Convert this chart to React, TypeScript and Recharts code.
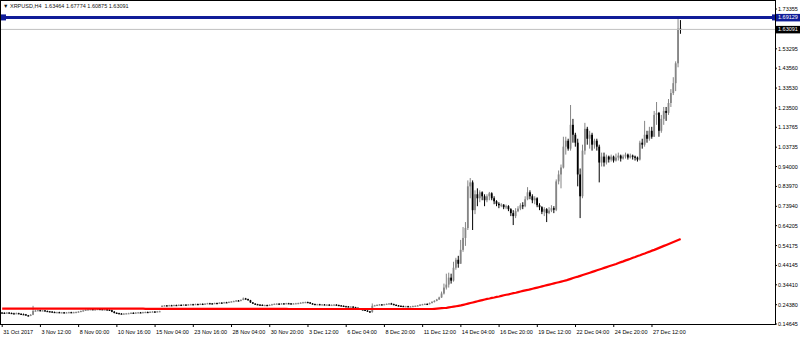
import React from 'react';
import { ComposedChart, Bar, Line, XAxis, YAxis, ReferenceLine } from 'recharts';

// XRPUSD H4 candles (one entry per bar)
const opens = [
  0.204, 0.203, 0.201, 0.204, 0.202, 0.200, 0.199, 0.201, 0.198, 0.196,
  0.195, 0.190, 0.188, 0.193, 0.212, 0.214, 0.216, 0.213, 0.215, 0.212,
  0.210, 0.209, 0.207, 0.205, 0.206, 0.204, 0.205, 0.203, 0.205, 0.206,
  0.204, 0.206, 0.207, 0.209, 0.212, 0.215, 0.218, 0.220, 0.221, 0.219,
  0.220, 0.222, 0.221, 0.219, 0.220, 0.218, 0.216, 0.208, 0.203, 0.201,
  0.199, 0.198, 0.199, 0.200, 0.201, 0.203, 0.202, 0.204, 0.205, 0.204,
  0.206, 0.207, 0.206, 0.208, 0.209, 0.208, 0.210, 0.236, 0.238, 0.240,
  0.239, 0.241, 0.240, 0.242, 0.241, 0.243, 0.242, 0.244, 0.243, 0.245,
  0.246, 0.244, 0.247, 0.246, 0.248, 0.247, 0.249, 0.251, 0.250, 0.249,
  0.252, 0.251, 0.254, 0.253, 0.256, 0.255, 0.258, 0.260, 0.262, 0.265,
  0.263, 0.268, 0.275, 0.272, 0.266, 0.255, 0.249, 0.246, 0.244, 0.243,
  0.241, 0.242, 0.240, 0.243, 0.246, 0.248, 0.249, 0.247, 0.250, 0.249,
  0.251, 0.250, 0.248, 0.250, 0.251, 0.252, 0.254, 0.256, 0.257, 0.255,
  0.250, 0.247, 0.245, 0.246, 0.244, 0.245, 0.243, 0.244, 0.242, 0.243,
  0.244, 0.242, 0.240, 0.238, 0.236, 0.235, 0.233, 0.234, 0.231, 0.228,
  0.224, 0.220, 0.218, 0.214, 0.210, 0.207, 0.238, 0.241, 0.243, 0.245,
  0.244, 0.246, 0.248, 0.250, 0.247, 0.243, 0.240, 0.238, 0.237, 0.235,
  0.236, 0.234, 0.235, 0.237, 0.238, 0.240, 0.244, 0.246, 0.248, 0.247,
  0.252, 0.258, 0.263, 0.270, 0.280, 0.300, 0.330, 0.345, 0.380, 0.365,
  0.430, 0.470, 0.450, 0.520, 0.580, 0.630, 0.840, 0.860, 0.720, 0.800,
  0.780, 0.810, 0.790, 0.770, 0.790, 0.805, 0.780, 0.765, 0.752, 0.745,
  0.748, 0.735, 0.740, 0.725, 0.705, 0.690, 0.715, 0.728, 0.745, 0.740,
  0.775, 0.810, 0.790, 0.770, 0.780, 0.745, 0.735, 0.712, 0.725, 0.705,
  0.718, 0.730, 0.722, 0.865, 0.900, 0.935, 1.040, 1.070, 1.030, 1.150,
  1.100, 1.060, 0.900, 0.790, 1.020, 1.130, 1.080, 1.100, 1.050, 1.070,
  1.040, 0.960, 0.990, 0.960, 0.990, 0.975, 0.990, 0.970, 0.985, 0.995,
  0.980, 0.990, 1.000, 0.985, 0.995, 0.990, 0.985, 0.975, 1.060, 1.050,
  1.100, 1.080, 1.120, 1.090, 1.200, 1.210, 1.120, 1.180, 1.220, 1.210,
  1.260, 1.310, 1.360, 1.460, 1.63464,
];

const highs = [
  0.206, 0.205, 0.206, 0.206, 0.204, 0.203, 0.204, 0.203, 0.200, 0.199,
  0.197, 0.192, 0.196, 0.238, 0.218, 0.219, 0.218, 0.217, 0.217, 0.214,
  0.212, 0.211, 0.209, 0.208, 0.208, 0.207, 0.207, 0.207, 0.208, 0.208,
  0.208, 0.209, 0.211, 0.214, 0.217, 0.220, 0.222, 0.224, 0.223, 0.222,
  0.224, 0.224, 0.223, 0.222, 0.222, 0.220, 0.218, 0.212, 0.205, 0.203,
  0.201, 0.201, 0.202, 0.203, 0.205, 0.205, 0.206, 0.207, 0.207, 0.208,
  0.209, 0.209, 0.210, 0.211, 0.211, 0.212, 0.213, 0.241, 0.242, 0.242,
  0.243, 0.243, 0.244, 0.244, 0.245, 0.245, 0.246, 0.246, 0.247, 0.248,
  0.248, 0.249, 0.249, 0.250, 0.250, 0.251, 0.253, 0.253, 0.252, 0.254,
  0.254, 0.256, 0.256, 0.258, 0.258, 0.260, 0.262, 0.264, 0.267, 0.267,
  0.270, 0.280, 0.278, 0.274, 0.268, 0.257, 0.251, 0.248, 0.246, 0.245,
  0.244, 0.244, 0.245, 0.248, 0.250, 0.251, 0.251, 0.252, 0.252, 0.253,
  0.253, 0.252, 0.252, 0.253, 0.254, 0.256, 0.258, 0.259, 0.259, 0.257,
  0.252, 0.249, 0.248, 0.248, 0.247, 0.247, 0.246, 0.246, 0.245, 0.246,
  0.246, 0.244, 0.242, 0.240, 0.238, 0.237, 0.236, 0.236, 0.233, 0.230,
  0.226, 0.222, 0.220, 0.216, 0.212, 0.250, 0.243, 0.245, 0.247, 0.247,
  0.248, 0.250, 0.252, 0.253, 0.249, 0.245, 0.242, 0.240, 0.239, 0.238,
  0.238, 0.237, 0.239, 0.240, 0.242, 0.246, 0.248, 0.250, 0.250, 0.255,
  0.261, 0.266, 0.273, 0.284, 0.310, 0.350, 0.400, 0.405, 0.400, 0.460,
  0.480, 0.490, 0.570, 0.635, 0.660, 0.870, 0.882, 0.870, 0.820, 0.830,
  0.820, 0.815, 0.800, 0.800, 0.812, 0.810, 0.790, 0.770, 0.760, 0.755,
  0.750, 0.748, 0.745, 0.730, 0.720, 0.730, 0.740, 0.755, 0.760, 0.790,
  0.836, 0.820, 0.800, 0.790, 0.785, 0.755, 0.740, 0.735, 0.730, 0.735,
  0.745, 0.740, 0.875, 0.920, 0.950, 1.090, 1.090, 1.080, 1.250, 1.180,
  1.110, 1.080, 0.930, 1.050, 1.160, 1.140, 1.120, 1.110, 1.080, 1.080,
  1.050, 1.010, 1.010, 1.000, 0.995, 1.000, 0.995, 1.005, 1.010, 1.000,
  1.000, 1.010, 1.005, 1.005, 1.000, 0.995, 0.990, 1.070, 1.080, 1.170,
  1.120, 1.140, 1.140, 1.220, 1.265, 1.215, 1.200, 1.240, 1.240, 1.280,
  1.330, 1.390, 1.470, 1.69129, 1.67774,
];

const lows = [
  0.201, 0.199, 0.199, 0.200, 0.198, 0.197, 0.197, 0.196, 0.194, 0.193,
  0.188, 0.185, 0.186, 0.191, 0.210, 0.212, 0.211, 0.211, 0.210, 0.208,
  0.207, 0.205, 0.203, 0.203, 0.202, 0.202, 0.201, 0.201, 0.203, 0.202,
  0.202, 0.204, 0.205, 0.207, 0.210, 0.213, 0.216, 0.218, 0.217, 0.217,
  0.218, 0.219, 0.217, 0.217, 0.216, 0.214, 0.206, 0.200, 0.199, 0.197,
  0.196, 0.196, 0.197, 0.198, 0.199, 0.200, 0.200, 0.202, 0.202, 0.202,
  0.204, 0.204, 0.204, 0.206, 0.206, 0.206, 0.208, 0.234, 0.236, 0.237,
  0.237, 0.238, 0.238, 0.239, 0.239, 0.240, 0.240, 0.241, 0.241, 0.243,
  0.242, 0.242, 0.244, 0.244, 0.245, 0.245, 0.247, 0.248, 0.247, 0.247,
  0.249, 0.249, 0.251, 0.251, 0.253, 0.253, 0.256, 0.258, 0.260, 0.261,
  0.261, 0.266, 0.270, 0.264, 0.253, 0.247, 0.244, 0.242, 0.241, 0.239,
  0.239, 0.238, 0.238, 0.241, 0.244, 0.246, 0.245, 0.245, 0.247, 0.247,
  0.248, 0.246, 0.246, 0.248, 0.249, 0.250, 0.252, 0.254, 0.253, 0.248,
  0.245, 0.243, 0.243, 0.242, 0.242, 0.241, 0.241, 0.240, 0.240, 0.241,
  0.240, 0.238, 0.236, 0.234, 0.233, 0.231, 0.231, 0.229, 0.226, 0.222,
  0.218, 0.216, 0.212, 0.208, 0.203, 0.203, 0.236, 0.239, 0.241, 0.242,
  0.242, 0.244, 0.246, 0.245, 0.241, 0.238, 0.236, 0.235, 0.233, 0.233,
  0.232, 0.232, 0.233, 0.235, 0.236, 0.238, 0.242, 0.244, 0.245, 0.245,
  0.250, 0.255, 0.261, 0.268, 0.278, 0.295, 0.320, 0.330, 0.350, 0.360,
  0.420, 0.430, 0.450, 0.510, 0.540, 0.620, 0.780, 0.620, 0.700, 0.740,
  0.760, 0.770, 0.740, 0.760, 0.770, 0.770, 0.750, 0.740, 0.730, 0.735,
  0.725, 0.725, 0.715, 0.690, 0.645, 0.680, 0.710, 0.720, 0.725, 0.735,
  0.770, 0.775, 0.755, 0.750, 0.735, 0.720, 0.700, 0.690, 0.660, 0.700,
  0.710, 0.705, 0.715, 0.850, 0.830, 0.930, 1.000, 1.020, 1.020, 1.060,
  1.040, 0.840, 0.680, 0.780, 1.000, 1.050, 1.030, 1.020, 1.030, 1.020,
  0.860, 0.940, 0.940, 0.950, 0.960, 0.965, 0.960, 0.965, 0.970, 0.965,
  0.975, 0.980, 0.975, 0.980, 0.975, 0.970, 0.965, 0.970, 1.030, 1.040,
  1.060, 1.070, 1.080, 1.090, 1.150, 1.090, 1.110, 1.150, 1.170, 1.200,
  1.240, 1.300, 1.320, 1.440, 1.60875,
];

const closes = [
  0.203, 0.201, 0.204, 0.202, 0.200, 0.199, 0.201, 0.198, 0.196, 0.195,
  0.190, 0.188, 0.193, 0.212, 0.214, 0.216, 0.213, 0.215, 0.212, 0.210,
  0.209, 0.207, 0.205, 0.206, 0.204, 0.205, 0.203, 0.205, 0.206, 0.204,
  0.206, 0.207, 0.209, 0.212, 0.215, 0.218, 0.220, 0.221, 0.219, 0.220,
  0.222, 0.221, 0.219, 0.220, 0.218, 0.216, 0.208, 0.203, 0.201, 0.199,
  0.198, 0.199, 0.200, 0.201, 0.203, 0.202, 0.204, 0.205, 0.204, 0.206,
  0.207, 0.206, 0.208, 0.209, 0.208, 0.210, 0.211, 0.238, 0.240, 0.239,
  0.241, 0.240, 0.242, 0.241, 0.243, 0.242, 0.244, 0.243, 0.245, 0.246,
  0.244, 0.247, 0.246, 0.248, 0.247, 0.249, 0.251, 0.250, 0.249, 0.252,
  0.251, 0.254, 0.253, 0.256, 0.255, 0.258, 0.260, 0.262, 0.265, 0.263,
  0.268, 0.275, 0.272, 0.266, 0.255, 0.249, 0.246, 0.244, 0.243, 0.241,
  0.242, 0.240, 0.243, 0.246, 0.248, 0.249, 0.247, 0.250, 0.249, 0.251,
  0.250, 0.248, 0.250, 0.251, 0.252, 0.254, 0.256, 0.257, 0.255, 0.250,
  0.247, 0.245, 0.246, 0.244, 0.245, 0.243, 0.244, 0.242, 0.243, 0.244,
  0.242, 0.240, 0.238, 0.236, 0.235, 0.233, 0.234, 0.231, 0.228, 0.224,
  0.220, 0.218, 0.214, 0.210, 0.207, 0.238, 0.241, 0.243, 0.245, 0.244,
  0.246, 0.248, 0.250, 0.247, 0.243, 0.240, 0.238, 0.237, 0.235, 0.236,
  0.234, 0.235, 0.237, 0.238, 0.240, 0.244, 0.246, 0.248, 0.247, 0.252,
  0.258, 0.263, 0.270, 0.280, 0.300, 0.330, 0.345, 0.380, 0.365, 0.430,
  0.470, 0.450, 0.520, 0.580, 0.630, 0.840, 0.860, 0.720, 0.800, 0.780,
  0.810, 0.790, 0.770, 0.790, 0.805, 0.780, 0.765, 0.752, 0.745, 0.748,
  0.735, 0.740, 0.725, 0.705, 0.690, 0.715, 0.728, 0.745, 0.740, 0.775,
  0.810, 0.790, 0.770, 0.780, 0.745, 0.735, 0.712, 0.725, 0.705, 0.718,
  0.730, 0.722, 0.865, 0.900, 0.935, 1.040, 1.070, 1.030, 1.150, 1.100,
  1.060, 0.900, 0.790, 1.020, 1.130, 1.080, 1.100, 1.050, 1.070, 1.040,
  0.960, 0.990, 0.960, 0.990, 0.975, 0.990, 0.970, 0.985, 0.995, 0.980,
  0.990, 1.000, 0.985, 0.995, 0.990, 0.985, 0.975, 1.060, 1.050, 1.100,
  1.080, 1.120, 1.090, 1.200, 1.210, 1.120, 1.180, 1.220, 1.210, 1.260,
  1.310, 1.360, 1.460, 1.63464, 1.63091,
];

// red moving average
const maValues = [
  0.224, 0.224, 0.224, 0.224, 0.224, 0.224, 0.224, 0.224, 0.224, 0.224,
  0.224, 0.224, 0.224, 0.224, 0.224, 0.224, 0.224, 0.224, 0.224, 0.224,
  0.224, 0.224, 0.224, 0.224, 0.224, 0.224, 0.224, 0.224, 0.224, 0.224,
  0.224, 0.224, 0.224, 0.224, 0.224, 0.224, 0.224, 0.224, 0.224, 0.224,
  0.224, 0.224, 0.224, 0.224, 0.224, 0.224, 0.224, 0.224, 0.224, 0.224,
  0.224, 0.224, 0.224, 0.224, 0.224, 0.224, 0.224, 0.224, 0.224, 0.224,
  0.223, 0.223, 0.223, 0.223, 0.223, 0.223, 0.223, 0.223, 0.223, 0.223,
  0.223, 0.223, 0.223, 0.223, 0.223, 0.223, 0.223, 0.223, 0.223, 0.223,
  0.223, 0.223, 0.223, 0.223, 0.223, 0.223, 0.223, 0.223, 0.223, 0.223,
  0.223, 0.223, 0.223, 0.223, 0.223, 0.223, 0.223, 0.223, 0.223, 0.223,
  0.223, 0.223, 0.223, 0.223, 0.223, 0.223, 0.223, 0.223, 0.223, 0.223,
  0.223, 0.223, 0.223, 0.223, 0.223, 0.223, 0.223, 0.223, 0.223, 0.223,
  0.222, 0.222, 0.222, 0.222, 0.222, 0.222, 0.222, 0.222, 0.222, 0.222,
  0.222, 0.222, 0.222, 0.222, 0.222, 0.222, 0.222, 0.222, 0.222, 0.222,
  0.222, 0.222, 0.222, 0.222, 0.222, 0.222, 0.222, 0.222, 0.222, 0.222,
  0.222, 0.222, 0.222, 0.222, 0.222, 0.222, 0.222, 0.222, 0.222, 0.222,
  0.222, 0.222, 0.222, 0.222, 0.222, 0.222, 0.222, 0.222, 0.222, 0.222,
  0.222, 0.222, 0.222, 0.222, 0.222, 0.222, 0.222, 0.222, 0.222, 0.222,
  0.222, 0.223, 0.224, 0.225, 0.226, 0.227, 0.228, 0.230, 0.232, 0.234,
  0.236, 0.238, 0.240, 0.243, 0.246, 0.249, 0.252, 0.255, 0.258, 0.261,
  0.264, 0.267, 0.270, 0.273, 0.275, 0.278, 0.280, 0.283, 0.285, 0.288,
  0.291, 0.294, 0.296, 0.299, 0.302, 0.304, 0.307, 0.310, 0.313, 0.316,
  0.318, 0.321, 0.324, 0.327, 0.330, 0.333, 0.336, 0.339, 0.342, 0.345,
  0.348, 0.351, 0.354, 0.357, 0.360, 0.363, 0.366, 0.370, 0.374, 0.378,
  0.382, 0.385, 0.389, 0.393, 0.397, 0.401, 0.405, 0.409, 0.413, 0.417,
  0.421, 0.425, 0.429, 0.433, 0.437, 0.441, 0.445, 0.449, 0.454, 0.458,
  0.462, 0.467, 0.471, 0.475, 0.480, 0.484, 0.489, 0.493, 0.498, 0.502,
  0.507, 0.511, 0.516, 0.520, 0.525, 0.530, 0.535, 0.540, 0.545, 0.550,
  0.555, 0.560, 0.565, 0.570, 0.575,
];

// one label every 16 bars
const timeLabels = [
  '31 Oct 2017', '3 Nov 12:00', '8 Nov 00:00', '10 Nov 16:00', '15 Nov 04:00',
  '23 Nov 16:00', '28 Nov 04:00', '30 Nov 20:00', '3 Dec 12:00', '6 Dec 04:00',
  '8 Dec 20:00', '11 Dec 12:00', '14 Dec 04:00', '16 Dec 20:00', '19 Dec 12:00',
  '22 Dec 04:00', '24 Dec 20:00', '27 Dec 12:00',
];

const priceTicks = [
  0.14645, 0.2438, 0.3441, 0.44145, 0.54175, 0.64205, 0.7394, 0.8397, 0.94,
  1.03735, 1.13765, 1.235, 1.3353, 1.4356, 1.53295, 1.73355,
];

const highLevel = 1.69129;
const lastPrice = 1.63091;
const title = '\u25BC XRPUSD,H4  1.63464 1.67774 1.60875 1.63091';

const SLOTS = 324; // bars plus empty space on the right (chart shift)
const FONT = "'Liberation Sans', Arial, sans-serif";

const rows = Array.from({ length: SLOTS }, (_, i) =>
  i < closes.length
    ? { idx: i, range: [lows[i], highs[i]], o: opens[i], h: highs[i], l: lows[i], c: closes[i], ma: maValues[i] }
    : { idx: i }
);

const Candle = (props: any) => {
  const { x, y, width, height, payload } = props;
  if (!payload || payload.h == null) return <g />;
  const { o, h, l, c } = payload;
  const top = Math.min(y, y + height);
  const hgt = Math.abs(height);
  const k = h - l > 0 ? hgt / (h - l) : 0;
  const cx = x + width / 2;
  const bTop = top + (h - Math.max(o, c)) * k;
  const bBot = top + (h - Math.min(o, c)) * k;
  const color = c >= o ? '#858585' : '#000000';
  const bw = 1.8;
  return (
    <g>
      <line x1={cx} x2={cx} y1={top} y2={top + Math.max(hgt, 1)} stroke={color} strokeWidth={1} />
      <rect x={cx - bw / 2} y={bTop} width={bw} height={Math.max(bBot - bTop, 1.2)} fill={color} />
    </g>
  );
};

const TimeTick = (props: any) => {
  const { x, payload } = props;
  const i = payload.value;
  const label = i % 16 === 0 ? timeLabels[i / 16] : undefined;
  if (!label) return <g />;
  return (
    <g>
      <line x1={x} x2={x} y1={324} y2={327} stroke="#000" />
      <text x={x + 1} y={334} fontSize={5.5} fill="#000" fontFamily={FONT}>{label}</text>
    </g>
  );
};

const PriceTick = (props: any) => {
  const { y, payload } = props;
  return (
    <g>
      <line x1={775} x2={777} y1={y} y2={y} stroke="#000" />
      <text x={778} y={y + 2} fontSize={5.5} fill="#000" fontFamily={FONT}>{Number(payload.value).toFixed(5)}</text>
    </g>
  );
};

const PriceTag = (props: any) => {
  const { viewBox, text, bg, marker } = props;
  if (!viewBox) return null;
  const { x, y, width } = viewBox;
  const right = x + width;
  return (
    <g>
      {marker && <rect x={x - 1} y={y - 3} width={6} height={6} fill={bg} />}
      {marker && <rect x={right - 3} y={y - 3} width={6} height={6} fill={bg} />}
      <rect x={right + 1} y={y - 3.5} width={24} height={7.5} fill={bg} />
      <text x={right + 3} y={y + 2} fontSize={5.5} fill="#fff" fontFamily={FONT}>{text}</text>
    </g>
  );
};

export default function App() {
  return (
    <div style={{ position: 'absolute', left: 0, top: 0, width: 800, height: 338, background: '#fff', fontFamily: FONT }}>
      <ComposedChart
        width={800}
        height={338}
        data={rows}
        margin={{ top: 1, right: 0, bottom: 0, left: 1 }}
        barCategoryGap="0%"
      >
        <XAxis
          dataKey="idx"
          type="category"
          height={14}
          axisLine={false}
          tickLine={false}
          interval={15}
          tick={<TimeTick />}
        />
        <YAxis
          orientation="right"
          type="number"
          width={25}
          domain={[0.1464, 1.774]}
          allowDataOverflow
          ticks={priceTicks}
          interval={0}
          axisLine={false}
          tickLine={false}
          tick={<PriceTick />}
        />
        <ReferenceLine
          y={lastPrice}
          stroke="#c0c0c0"
          strokeWidth={1}
          label={<PriceTag text={lastPrice.toFixed(5)} bg="#000" />}
        />
        <Bar dataKey="range" shape={<Candle />} isAnimationActive={false} />
        <Line
          dataKey="ma"
          stroke="#ff0000"
          strokeWidth={2.2}
          dot={false}
          activeDot={false}
          isAnimationActive={false}
        />
        <ReferenceLine
          y={highLevel}
          stroke="#101c98"
          strokeWidth={3}
          label={<PriceTag text={highLevel.toFixed(5)} bg="#101c98" marker />}
        />
      </ComposedChart>
      <div
        style={{
          position: 'absolute', left: 0, top: 0, width: 774, height: 323,
          border: '1px solid #000', pointerEvents: 'none',
        }}
      />
      <div style={{ position: 'absolute', left: 3, top: 3, fontSize: 5.5, lineHeight: '6px', color: '#111', whiteSpace: 'pre' }}>
        {title}
      </div>
    </div>
  );
}
